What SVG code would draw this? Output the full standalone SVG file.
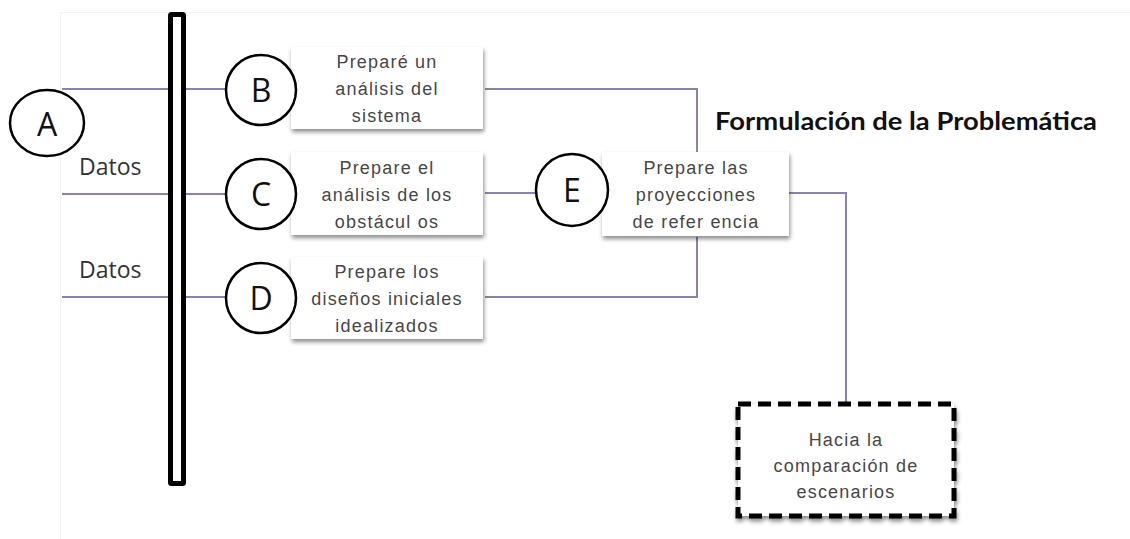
<svg xmlns="http://www.w3.org/2000/svg" width="1130" height="539" viewBox="0 0 1130 539">
<style>
.conn{fill:none;stroke:#8e7fb4;stroke-width:2}
.circ{fill:#fff;stroke:#000;stroke-width:2.5}
.letter{font-family:"Open Sans","Liberation Sans",sans-serif;font-size:32px;fill:#111;text-anchor:middle}
.box{fill:#fff;filter:url(#sh)}
.bt{font-family:"Liberation Sans",Arial,sans-serif;font-size:18px;letter-spacing:1.2px;fill:#474747;text-anchor:middle}
.datos{font-family:"Open Sans","Liberation Sans",sans-serif;font-size:23px;fill:#333}
</style>
<defs>
<filter id="sh" x="-10%" y="-10%" width="125%" height="135%">
<feDropShadow dx="1" dy="3" stdDeviation="2" flood-color="#000" flood-opacity="0.45"/>
</filter>
</defs>
<rect width="1130" height="539" fill="#fff"/>
<path d="M60.5 539 V12.5 H1130" fill="none" stroke="#f2f2f2" stroke-width="1"/>
<g id="connectors">
<path class="conn" d="M62 89 H226"/>
<path class="conn" d="M62 194 H226"/>
<path class="conn" d="M62 297 H226"/>
<path class="conn" d="M485 89 H697 V152"/>
<path class="conn" d="M485 297 H697 V237"/>
<path class="conn" d="M485 193 H536"/>
<path class="conn" d="M789 193 H846 V403"/>
</g>
<g id="bar">
<rect x="170.5" y="14.5" width="13" height="469" fill="#fff" stroke="#000" stroke-width="5" rx="1"/>
</g>
<g id="nodeA">
<ellipse class="circ" cx="47" cy="123" rx="37" ry="33"/>
<text class="letter" x="47" y="136">A</text>
</g>
<g id="datos1"><text class="datos" x="79" y="175">Datos</text></g>
<g id="datos2"><text class="datos" x="79" y="278">Datos</text></g>
<g id="nodeB">
<rect class="box" x="291" y="47" width="192" height="82"/>
<text class="bt" x="387" y="68">Preparé un</text>
<text class="bt" x="387" y="95">análisis del</text>
<text class="bt" x="387" y="122">sistema</text>
<circle class="circ" cx="261" cy="90" r="35"/>
<text class="letter" x="261" y="102">B</text>
</g>
<g id="nodeC">
<rect class="box" x="291" y="152" width="192" height="83"/>
<text class="bt" x="387" y="174">Prepare  el</text>
<text class="bt" x="387" y="201">análisis de los</text>
<text class="bt" x="387" y="228">obstácul os</text>
<circle class="circ" cx="261" cy="194" r="35"/>
<text class="letter" x="261" y="206">C</text>
</g>
<g id="nodeD">
<rect class="box" x="291" y="257" width="192" height="82"/>
<text class="bt" x="387" y="278">Prepare  los</text>
<text class="bt" x="387" y="305">diseños iniciales</text>
<text class="bt" x="387" y="332">idealizados</text>
<circle class="circ" cx="261" cy="298" r="35"/>
<text class="letter" x="261" y="310">D</text>
</g>
<g id="nodeE">
<rect class="box" x="602" y="152" width="187" height="84"/>
<text class="bt" x="696" y="174">Prepare  las</text>
<text class="bt" x="696" y="201">proyecciones</text>
<text class="bt" x="696" y="228">de refer encia</text>
<circle class="circ" cx="572" cy="190" r="36"/>
<text class="letter" x="572" y="202">E</text>
</g>
<g id="title">
<text x="715" y="130" font-family="Lato,'Open Sans',sans-serif" font-weight="bold" font-size="25" fill="#111" textLength="382" lengthAdjust="spacingAndGlyphs">Formulación de la Problemática</text>
</g>
<g id="nodeF">
<rect x="738" y="404" width="216" height="112" fill="#fff" stroke="#000" stroke-width="5" stroke-dasharray="13 7" filter="url(#sh)"/>
<text class="bt" x="846" y="446">Hacia la</text>
<text class="bt" x="846" y="472">comparación de</text>
<text class="bt" x="846" y="498">escenarios</text>
</g>
</svg>
